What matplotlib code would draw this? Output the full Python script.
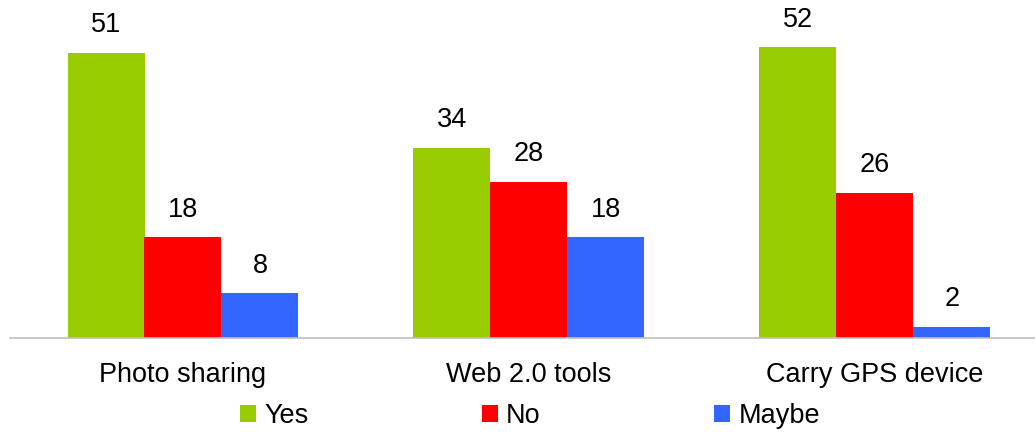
import numpy as np
import matplotlib
matplotlib.use('Agg')
import matplotlib.pyplot as plt

plt.rcParams['font.family'] = ['Liberation Sans', 'DejaVu Sans']

categories = ['Photo sharing', 'Web 2.0 tools', 'Carry GPS device']
series = ['Yes', 'No', 'Maybe']
yes_vals = [51, 34, 52]
no_vals = [18, 28, 26]
maybe_vals = [8, 18, 2]
colors = ['#99cc00', '#ff0000', '#3366ff']

W, H = 1035, 432
fig = plt.figure(figsize=(W / 100, H / 100), dpi=100)
ax = fig.add_axes([10 / W, (H - 338) / H, (W - 10) / W, 338 / H])

x = np.arange(len(categories))
bw = 77 / 346
for i, (vals, c, name) in enumerate(zip([yes_vals, no_vals, maybe_vals], colors, series)):
    bars = ax.bar(x + (i - 1) * bw, vals, bw, color=c, label=name, zorder=2)
    for b, v in zip(bars, vals):
        ax.annotate(str(v), (b.get_x() + b.get_width() / 2, v),
                    xytext=(0, 20), textcoords='offset points',
                    ha='center', va='center', fontsize=19.5)

ax.set_xlim(-0.5, -0.5 + (W - 10) / 346)
ax.set_ylim(0, 60.5)
for s in ['top', 'right', 'left']:
    ax.spines[s].set_visible(False)
ax.spines['bottom'].set_color('#bfbfbf')
ax.spines['bottom'].set_linewidth(1.2)
ax.set_yticks([])
ax.set_xticks(x)
ax.set_xticklabels(categories, fontsize=19.5)
ax.tick_params(axis='x', length=0, pad=17)

fig.legend(loc='center', bbox_to_anchor=(0.512, 16 / H), ncol=3, frameon=False,
           fontsize=19.5, handlelength=0.6, handleheight=0.6,
           handletextpad=0.3, columnspacing=6.4)

fig.savefig('out.png', dpi=100)
